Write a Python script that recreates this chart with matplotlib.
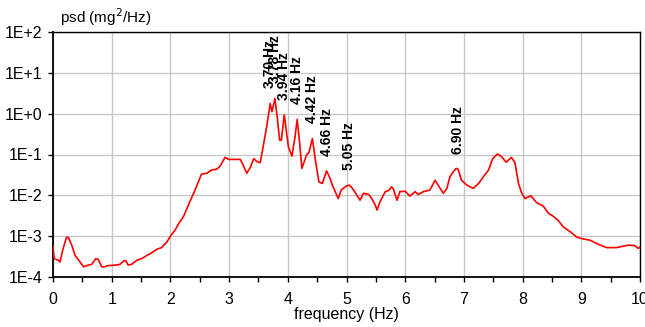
import numpy as np
import matplotlib
matplotlib.use("Agg")
import matplotlib.pyplot as plt
from matplotlib.ticker import FixedLocator, NullFormatter

plt.rcParams['font.family'] = ['Liberation Sans', 'DejaVu Sans']

# Power spectral density trace (frequency in Hz, log10 of psd in mg^2/Hz)
freq = [0.00, 0.02, 0.09, 0.12, 0.165, 0.23, 0.26, 0.32, 0.375, 0.46, 0.52, 0.60,
        0.66, 0.73, 0.77, 0.83, 0.88, 0.94, 1.06, 1.14, 1.21, 1.24, 1.28, 1.34,
        1.43, 1.51, 1.60, 1.68, 1.77, 1.85, 1.94, 2.00, 2.08, 2.15, 2.22, 2.33,
        2.42, 2.53, 2.62, 2.70, 2.79, 2.85, 2.93, 2.99, 3.06, 3.19, 3.24, 3.30,
        3.36, 3.42, 3.48, 3.53, 3.57, 3.64, 3.70, 3.73, 3.78, 3.82, 3.86, 3.89,
        3.94, 4.01, 4.07, 4.12, 4.16, 4.20, 4.24, 4.32, 4.36, 4.42, 4.47, 4.53,
        4.59, 4.66, 4.71, 4.77, 4.86, 4.91, 5.00, 5.05, 5.10, 5.14, 5.23, 5.29,
        5.38, 5.43, 5.49, 5.52, 5.57, 5.66, 5.72, 5.77, 5.80, 5.86, 5.91, 6.00,
        6.08, 6.17, 6.22, 6.31, 6.42, 6.51, 6.56, 6.65, 6.71, 6.76, 6.82, 6.87,
        6.90, 6.96, 7.05, 7.16, 7.25, 7.33, 7.42, 7.49, 7.57, 7.64, 7.72, 7.81,
        7.87, 7.93, 7.98, 8.04, 8.14, 8.24, 8.35, 8.44, 8.52, 8.61, 8.69, 8.81,
        8.92, 9.01, 9.15, 9.29, 9.43, 9.60, 9.80, 9.91, 9.97, 10.00]
log_psd = [-3.25, -3.55, -3.59, -3.63, -3.34, -3.03, -3.03, -3.22, -3.47, -3.63, -3.75, -3.71,
           -3.69, -3.55, -3.57, -3.75, -3.75, -3.72, -3.71, -3.69, -3.60, -3.60, -3.71, -3.69,
           -3.59, -3.55, -3.47, -3.41, -3.32, -3.28, -3.14, -3.00, -2.85, -2.67, -2.53, -2.16,
           -1.87, -1.48, -1.46, -1.38, -1.36, -1.28, -1.07, -1.12, -1.12, -1.12, -1.26, -1.46,
           -1.32, -1.10, -1.18, -1.20, -0.89, -0.32, 0.25, 0.05, 0.37, -0.08, -0.65, -0.65,
           -0.03, -0.81, -1.04, -0.60, -0.14, -0.70, -1.34, -1.01, -0.95, -0.61, -1.14, -1.67,
           -1.71, -1.40, -1.55, -1.79, -2.08, -1.87, -1.77, -1.75, -1.83, -1.91, -2.12, -1.95,
           -1.98, -2.08, -2.24, -2.36, -2.16, -1.91, -1.88, -1.79, -1.85, -2.12, -1.91, -1.90,
           -2.02, -1.91, -1.98, -1.91, -1.87, -1.63, -1.75, -1.95, -1.83, -1.55, -1.42, -1.34,
           -1.36, -1.63, -1.75, -1.83, -1.71, -1.55, -1.38, -1.10, -0.99, -1.05, -1.19, -1.07,
           -1.20, -1.71, -1.93, -2.08, -2.01, -2.18, -2.26, -2.44, -2.51, -2.62, -2.77, -2.89,
           -3.02, -3.06, -3.10, -3.20, -3.28, -3.28, -3.22, -3.23, -3.30, -3.27]

# Labelled spectral peaks
peak_freq = [3.70, 3.78, 3.94, 4.16, 4.42, 4.66, 5.05, 6.90]
peak_labels = ["3.70 Hz", "3.78 Hz", "3.94 Hz", "4.16 Hz", "4.42 Hz",
               "4.66 Hz", "5.05 Hz", "6.90 Hz"]

y_ticks = [1e-4, 1e-3, 1e-2, 1e-1, 1e0, 1e1, 1e2]
y_tick_labels = ["1E-4", "1E-3", "1E-2", "1E-1", "1E+0", "1E+1", "1E+2"]
x_ticks = list(range(0, 11))

psd = 10.0 ** np.array(log_psd)
freq = np.array(freq)

fig = plt.figure(figsize=(6.45, 3.27), dpi=100)
ax = fig.add_axes([53 / 645, 1 - 277 / 327, 587 / 645, 245 / 327])

ax.plot(freq, psd, color="#ff0000", lw=1.2, zorder=3)
ax.set_yscale("log")
ax.set_xlim(0, 10)
ax.set_ylim(1e-4, 1e2)

ax.yaxis.set_major_locator(FixedLocator(y_ticks))
ax.set_yticklabels(y_tick_labels)
ax.yaxis.set_minor_locator(FixedLocator([]))
ax.yaxis.set_minor_formatter(NullFormatter())
ax.set_xticks(x_ticks)
ax.set_xticks(np.arange(0.5, 10, 1.0), minor=True)

ax.grid(True, which="major", color="#c8c8c8", lw=1.0, zorder=0)
ax.set_axisbelow(True)
ax.tick_params(which="both", direction="out", length=3.5, width=1.0, color="black",
               labelsize=11.5)
ax.tick_params(axis="x", pad=7)
ax.tick_params(axis="y", pad=4)
for s in ax.spines.values():
    s.set_color("black")
    s.set_linewidth(1.0)
ax.spines["left"].set_linewidth(1.3)
ax.spines["bottom"].set_linewidth(1.3)

ax.set_xlabel("frequency (Hz)", fontsize=11.5, labelpad=0)
fig.text(60 / 645, 1 - 17 / 327, "psd (mg$^2$/Hz)", fontsize=11, ha="left", va="center")

for f, lab in zip(peak_freq, peak_labels):
    v = np.interp(f, freq, psd)
    ax.annotate(lab, xy=(f, v), xytext=(0, 11), textcoords="offset points",
                rotation=90, ha="center", va="bottom", fontsize=10, fontweight="bold",
                zorder=4)

fig.savefig("out.png", dpi=100)
